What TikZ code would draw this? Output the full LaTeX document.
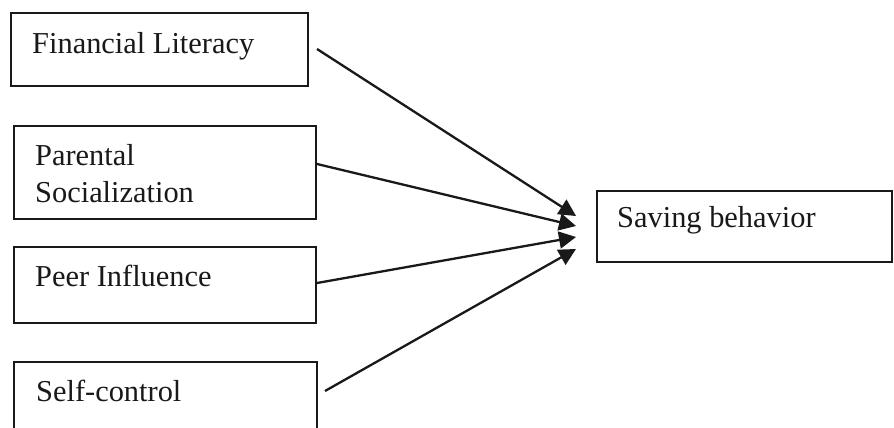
\documentclass[tikz,border=0pt]{standalone}
\usepackage{fontspec}
\setmainfont{Liberation Serif}
\usetikzlibrary{arrows.meta}
\begin{document}
\begin{tikzpicture}[x=1pt,y=-1pt,
  box/.style={draw=black!90,line width=1.8pt,rectangle,inner sep=0pt},
  lbl/.style={inner sep=0pt,anchor=base west,font=\fontsize{30.4}{37}\selectfont,align=left,text=black!90},
  conn/.style={draw=black!90,line width=2.3pt,-{Triangle[length=17pt,width=17pt]}}]
\clip (0,0) rectangle (894,428);
\fill[white] (0,0) rectangle (894,428);
% boxes
\node[box,minimum width=297pt,minimum height=73pt] (b1) at (159.5,49.5) {};
\node[box,minimum width=302pt,minimum height=93pt] (b2) at (165,172.5) {};
\node[box,minimum width=302pt,minimum height=76pt] (b3) at (165,285) {};
\node[box,minimum width=303pt,minimum height=80pt] (b4) at (165.5,402) {};
\node[box,minimum width=295pt,minimum height=71pt] (sb) at (744.5,226.5) {};
% labels
\node[lbl] (t1) at (32,53) {Financial Literacy};
\node[lbl] (t2) at (35,202) {Parental\\Socialization};
\node[lbl] (t3) at (35,286) {Peer Influence};
\node[lbl] (t4) at (36,401) {Self-control};
\node[lbl] (t5) at (617,227) {Saving behavior};
% connector ends
\coordinate (s1) at (317,49);
\coordinate (s2) at (317,164);
\coordinate (s3) at (317,283);
\coordinate (s4) at (325,391);
\coordinate (e1) at (576,216);
\coordinate (e2) at (576,226);
\coordinate (e3) at (576,237);
\coordinate (e4) at (576,249);
\draw[conn] (s1) -- (e1);
\draw[conn] (s2) -- (e2);
\draw[conn] (s3) -- (e3);
\draw[conn] (s4) -- (e4);
\end{tikzpicture}
\end{document}
